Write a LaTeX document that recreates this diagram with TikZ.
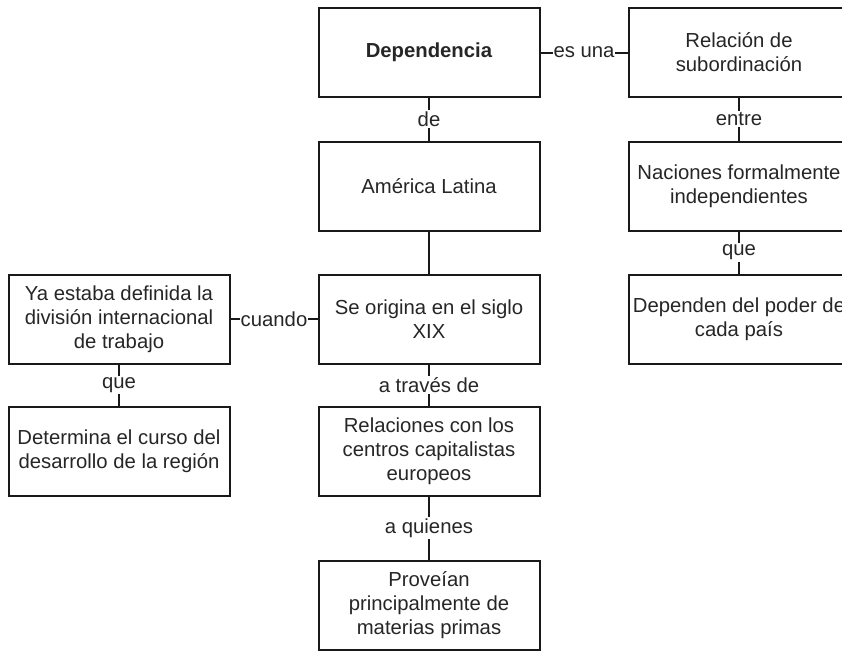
\documentclass[tikz,border=0pt]{standalone}
\usepackage{fontspec}
\setmainfont{Liberation Sans}
\begin{document}
\begin{tikzpicture}[x=1pt,y=-1pt,
  box/.style={draw=black!90, line width=2pt, minimum width=221pt, minimum height=89pt, inner sep=0pt, align=center, font=\fontsize{20.3}{24}\selectfont, text=black!85},
  lbl/.style={fill=white, inner xsep=0.5pt, inner ysep=1.5pt, font=\fontsize{20.3}{24}\selectfont, text=black!85},
  conn/.style={draw=black!90, line width=2pt}]
\useasboundingbox (0,0) rectangle (842,651);
\fill[white] (0,0) rectangle (842,651);
\clip (0,0) rectangle (842,651);
% middle column
\node[box] (dep) at (429,52.5) {\textbf{Dependencia}};
\node[box] (al) at (429,186) {América Latina};
\node[box] (se) at (429,319) {Se origina en el siglo\\XIX};
\node[box] (rc) at (429,451) {Relaciones con los\\centros capitalistas\\europeos};
\node[box] (pr) at (429,605.5) {Proveían\\principalmente de\\materias primas};
% right column
\node[box] (rel) at (739,52.5) {Relación de\\subordinación};
\node[box] (nac) at (739,186) {Naciones formalmente\\independientes};
\node[box] (dp) at (739,319) {Dependen del poder de\\cada país};
% left column
\node[box] (ya) at (119,319) {Ya estaba definida la\\división internacional\\de trabajo};
\node[box] (det) at (119,451) {Determina el curso del\\desarrollo de la región};
% connectors
\draw[conn] (dep) -- node[lbl] {de} (al);
\draw[conn] (al) -- (se);
\draw[conn] (se) -- node[lbl] {a través de} (rc);
\draw[conn] (rc) -- node[lbl] {a quienes} (pr);
\draw[conn] (dep) -- node[lbl] {es una} (rel);
\draw[conn] (rel) -- node[lbl] {entre} (nac);
\draw[conn] (nac) -- node[lbl] {que} (dp);
\draw[conn] (ya) -- node[lbl] {cuando} (se);
\draw[conn] (ya) -- node[lbl] {que} (det);
\end{tikzpicture}
\end{document}
